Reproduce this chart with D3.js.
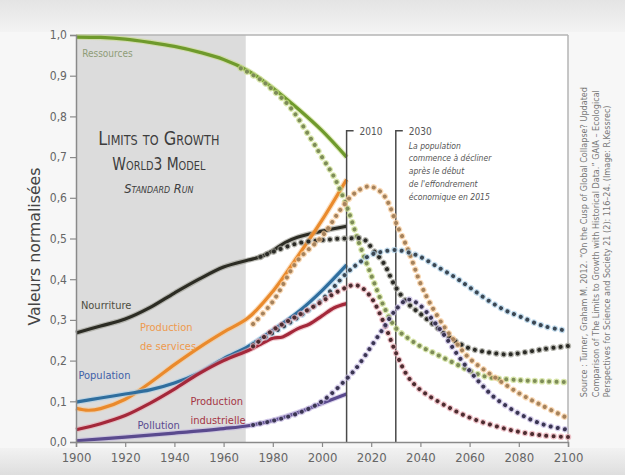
<!DOCTYPE html>
<html>
<head>
<meta charset="utf-8">
<script src="https://cdn.jsdelivr.net/npm/d3@7"></script>
<style>
  html, body { margin: 0; padding: 0; background: #f6f6f6; }
  svg { display: block; }
  .cond { font-family: "Liberation Sans Narrow", "DejaVu Sans Condensed", "Roboto", sans-serif; }
</style>
</head>
<body>
<svg id="chart" width="625" height="475"></svg>
<script>
// ---- data: observed values (solid) 1900–2010 ----
const resourcesObs = [[1900,.995],[1910,.994],[1920,.99],[1930,.982],[1940,.972],[1950,.958],[1960,.94],[1970,.912],[1980,.87],[1990,.82],[2000,.765],[2010,.70]];
const servicesObs = [[1900,.083],[1905,.078],[1910,.082],[1920,.105],[1930,.145],[1940,.19],[1950,.232],[1960,.27],[1970,.305],[1980,.37],[1990,.455],[2000,.545],[2010,.645]];
const foodObs = [[1900,.268],[1910,.285],[1920,.302],[1930,.33],[1940,.366],[1950,.40],[1960,.43],[1970,.447],[1975,.455],[1980,.47],[1985,.49],[1990,.503],[2000,.518],[2010,.53]];
const populationObs = [[1900,.098],[1910,.108],[1920,.118],[1930,.128],[1940,.145],[1950,.17],[1960,.205],[1970,.235],[1980,.275],[1990,.318],[2000,.372],[2010,.435]];
const industryObs = [[1900,.03],[1910,.045],[1920,.065],[1930,.095],[1940,.13],[1950,.168],[1960,.20],[1970,.225],[1975,.24],[1980,.255],[1984,.258],[1990,.278],[1995,.29],[2000,.31],[2005,.33],[2010,.34]];
const pollutionObs = [[1900,.003],[1920,.012],[1940,.022],[1960,.033],[1970,.04],[1980,.053],[1990,.072],[2000,.095],[2010,.118]];

// ---- data: World3 standard run (dotted) ----
const resourcesRun = [[1967,.918],[1975,.89],[1980,.865],[1987,.823],[1995,.75],[2000,.70],[2005,.65],[2010,.58],[2015,.49],[2020,.41],[2025,.335],[2030,.28],[2035,.255],[2040,.235],[2045,.22],[2050,.205],[2055,.19],[2060,.175],[2067,.16],[2080,.152],[2090,.149],[2100,.147]];
const servicesRun = [[1972,.29],[1980,.345],[1990,.445],[2000,.505],[2008,.575],[2013,.61],[2019,.628],[2024,.614],[2027,.587],[2030,.54],[2035,.472],[2040,.39],[2044,.34],[2050,.28],[2055,.24],[2060,.205],[2070,.16],[2080,.12],[2090,.088],[2100,.058]];
const foodRun = [[1975,.455],[1980,.467],[1990,.488],[2000,.496],[2010,.50],[2017,.498],[2021,.47],[2025,.44],[2030,.38],[2035,.34],[2040,.315],[2045,.29],[2050,.265],[2055,.245],[2060,.23],[2067,.221],[2075,.215],[2080,.218],[2090,.228],[2100,.236]];
const populationRun = [[1972,.24],[1980,.268],[1990,.305],[2000,.35],[2010,.415],[2015,.44],[2020,.46],[2025,.468],[2030,.472],[2035,.466],[2040,.455],[2047,.43],[2054,.405],[2060,.38],[2067,.35],[2074,.325],[2081,.307],[2090,.285],[2100,.273]];
const industryRun = [[1972,.235],[1980,.275],[1990,.31],[2000,.345],[2005,.365],[2010,.38],[2013,.386],[2016,.38],[2020,.355],[2025,.295],[2030,.22],[2035,.16],[2040,.128],[2050,.09],[2060,.06],[2070,.04],[2080,.025],[2090,.016],[2100,.012]];
const pollutionRun = [[1972,.042],[1980,.052],[1990,.07],[2000,.10],[2010,.155],[2015,.19],[2020,.235],[2025,.28],[2030,.325],[2035,.35],[2040,.335],[2045,.30],[2050,.26],[2055,.215],[2060,.175],[2065,.14],[2070,.11],[2080,.07],[2090,.043],[2100,.03]];

// ---- ticks, markers and labels ----
const xTicks = [1900,1920,1940,1960,1980,2000,2020,2040,2060,2080,2100];
const yTicks = [0,0.1,0.2,0.3,0.4,0.5,0.6,0.7,0.8,0.9,1.0];
const historyEnd = 1969;          // end of shaded historical period
const markerYears = [2010, 2030]; // vertical marker lines
const markerNote = ["La population", "commence à décliner", "après le début", "de l'effondrement", "économique en 2015"];
const sourceLines = [
  "Source : Turner, Graham M. 2012. \u201cOn the Cusp of Global Collapse? Updated",
  "Comparison of The Limits to Growth with Historical Data.\u201d GAIA \u2013 Ecological",
  "Perspectives for Science and Society 21 (2): 116\u201324. (Image: R.Kessrec)"
];

// ---- chart ----
const svg = d3.select("#chart");
const x = d3.scaleLinear().domain([1900, 2100]).range([76, 568]);
const y = d3.scaleLinear().domain([0, 1]).range([442, 35]);

// page bands
const defs = svg.append("defs");
const gTop = defs.append("linearGradient").attr("id", "topband").attr("x1", 0).attr("x2", 0).attr("y1", 0).attr("y2", 1);
gTop.append("stop").attr("offset", "0%").attr("stop-color", "#e4e4e4");
gTop.append("stop").attr("offset", "100%").attr("stop-color", "#f3f3f3");
const gBot = defs.append("linearGradient").attr("id", "botband").attr("x1", 0).attr("x2", 0).attr("y1", 0).attr("y2", 1);
gBot.append("stop").attr("offset", "0%").attr("stop-color", "#f2f2f2");
gBot.append("stop").attr("offset", "100%").attr("stop-color", "#dedede");

svg.append("rect").attr("x", 0).attr("y", 0).attr("width", 625).attr("height", 475).attr("fill", "#f7f7f7");
svg.append("rect").attr("x", 0).attr("y", 0).attr("width", 625).attr("height", 32).attr("fill", "url(#topband)");
svg.append("rect").attr("x", 0).attr("y", 448).attr("width", 625).attr("height", 27).attr("fill", "url(#botband)");

// plot area
svg.append("rect")
  .attr("x", x(1900)).attr("y", y(1))
  .attr("width", x(2100) - x(1900)).attr("height", y(0) - y(1))
  .attr("fill", "#ffffff");
svg.append("rect")
  .attr("x", x(1900)).attr("y", y(1))
  .attr("width", x(historyEnd) - x(1900)).attr("height", y(0) - y(1))
  .attr("fill", "#dcdcdc");

// frame (top and right)
svg.append("line").attr("x1", x(1900)).attr("x2", x(2100)).attr("y1", y(1)).attr("y2", y(1))
  .attr("stroke", "#b5b5b5").attr("stroke-width", 1.5);
svg.append("line").attr("x1", x(2100)).attr("x2", x(2100)).attr("y1", y(1)).attr("y2", y(0))
  .attr("stroke", "#b5b5b5").attr("stroke-width", 1.5);

// title block
const titleX = (x(1900) + x(historyEnd)) / 2 - 2;
const title = svg.append("g").attr("class", "cond").attr("fill", "#3d3d3d").attr("text-anchor", "middle");
title.append("text").attr("x", titleX).attr("y", 145)
  .attr("font-size", 20).style("font-variant", "small-caps")
  .attr("textLength", 121).attr("lengthAdjust", "spacingAndGlyphs").text("Limits to Growth");
title.append("text").attr("x", titleX).attr("y", 170)
  .attr("font-size", 17).style("font-variant", "small-caps")
  .attr("textLength", 93).attr("lengthAdjust", "spacingAndGlyphs").text("World3 Model");
title.append("text").attr("x", titleX).attr("y", 193)
  .attr("font-size", 13).attr("font-style", "italic").style("font-variant", "small-caps")
  .attr("textLength", 69).attr("lengthAdjust", "spacingAndGlyphs").text("Standard Run");

// line generators
const line = d3.line().x(d => x(d[0])).y(d => y(d[1])).curve(d3.curveCatmullRom.alpha(0.5));

const series = [
  { obs: resourcesObs,  run: resourcesRun,  color: "#6f9a2c", halo: "#c9dc8a", dot: "#7d8c58" },
  { obs: foodObs,       run: foodRun,       color: "#2c2c24", halo: "#9a9a90", dot: "#2a2a26" },
  { obs: servicesObs,   run: servicesRun,   color: "#ea8a2c", halo: "#f6c894", dot: "#a5825c" },
  { obs: populationObs, run: populationRun, color: "#2f6e9e", halo: "#a9cde6", dot: "#3b4753" },
  { obs: industryObs,   run: industryRun,   color: "#a4283a", halo: "#e7aab2", dot: "#4c2c30" },
  { obs: pollutionObs,  run: pollutionRun,  color: "#5a4a8e", halo: "#c3b8e0", dot: "#3a3552" }
];

// observed history: solid lines
const solid = svg.append("g");
series.forEach(s => {
  solid.append("path").datum(s.obs).attr("d", line)
    .attr("fill", "none").attr("stroke", s.halo).attr("stroke-width", 5.5).attr("stroke-opacity", 0.6);
  solid.append("path").datum(s.obs).attr("d", line)
    .attr("fill", "none").attr("stroke", s.color).attr("stroke-width", 3.2);
});

// marker lines
const markers = svg.append("g").attr("class", "cond");
markerYears.forEach(yr => {
  markers.append("path")
    .attr("d", `M${x(yr) + 7},${y(0.765)}H${x(yr)}V${y(0)}`)
    .attr("fill", "none").attr("stroke", "#4a4a4a").attr("stroke-width", 1.5);
  markers.append("text").attr("x", x(yr) + 13).attr("y", y(0.765) + 4)
    .attr("font-size", 10).attr("fill", "#555").text(yr);
});
markers.append("g").selectAll("text").data(markerNote).join("text")
  .attr("x", x(markerYears[1]) + 13)
  .attr("y", (d, i) => y(0.765) + 18 + i * 12.8)
  .attr("font-size", 8.5).attr("font-style", "italic").attr("fill", "#555").text(d => d);

// model run: dotted lines
const dotted = svg.append("g");
series.forEach(s => {
  dotted.append("path").datum(s.run).attr("d", line)
    .attr("fill", "none").attr("stroke", s.halo).attr("stroke-width", 6.5)
    .attr("stroke-linecap", "round").attr("stroke-dasharray", "0.01 7.2").attr("stroke-opacity", 0.7);
  dotted.append("path").datum(s.run).attr("d", line)
    .attr("fill", "none").attr("stroke", s.dot).attr("stroke-width", 4)
    .attr("stroke-linecap", "round").attr("stroke-dasharray", "0.01 7.2");
});

// axes
const fmt = d => d3.format(".1f")(d).replace(".", ",");
const yAxis = svg.append("g").attr("class", "cond").attr("transform", `translate(${x(1900)},0)`)
  .call(d3.axisLeft(y).tickValues(yTicks).tickFormat(fmt).tickSize(6).tickPadding(3));
const xAxis = svg.append("g").attr("class", "cond").attr("transform", `translate(0,${y(0)})`)
  .call(d3.axisBottom(x).tickValues(xTicks).tickFormat(d3.format("d")).tickSize(5).tickPadding(6));
[yAxis, xAxis].forEach(a => {
  a.select(".domain").attr("stroke", "#8a8a8a").attr("stroke-width", 1.5);
  a.selectAll(".tick line").attr("stroke", "#8a8a8a").attr("stroke-width", 1.2);
  a.selectAll(".tick text").attr("fill", "#666").attr("font-size", 13)
    .attr("font-family", "Liberation Sans Narrow, DejaVu Sans Condensed, sans-serif");
});
yAxis.selectAll(".tick text").attr("font-size", 12);

// axis title
svg.append("text").attr("transform", `translate(40,${(y(0) + y(1)) / 2 + 8}) rotate(-90)`)
  .attr("text-anchor", "middle").attr("font-size", 15.5).attr("fill", "#444")
  .attr("font-family", "Liberation Sans Narrow, DejaVu Sans Condensed, sans-serif")
  .attr("textLength", 158).attr("lengthAdjust", "spacingAndGlyphs")
  .text("Valeurs normalisées");

// series labels
const labels = [
  { lines: ["Ressources"], year: 1902.5, v: 0.947, color: "#8f9c78", size: 10 },
  { lines: ["Nourriture"], year: 1902, v: 0.328, color: "#4d4d40", size: 11 },
  { lines: ["Production", "de services"], year: 1926, v: 0.272, color: "#ee9a4e", size: 11 },
  { lines: ["Population"], year: 1901, v: 0.155, color: "#4060a8", size: 11 },
  { lines: ["Production", "industrielle"], year: 1946.5, v: 0.09, color: "#a53545", size: 11 },
  { lines: ["Pollution"], year: 1925, v: 0.031, color: "#5a4a90", size: 11 }
];
const lg = svg.append("g").attr("class", "cond");
labels.forEach(l => {
  l.lines.forEach((t, i) => {
    lg.append("text").attr("x", x(l.year)).attr("y", y(l.v) + i * 19)
      .attr("font-size", l.size).attr("fill", l.color).text(t);
  });
});

// source note, set vertically
svg.append("g").attr("class", "cond").selectAll("text").data(sourceLines).join("text")
  .attr("transform", (d, i) => `translate(${587 + i * 11.5},${y(0.11)}) rotate(-90)`)
  .attr("font-size", 9).attr("fill", "#777").text(d => d);
</script>
</body>
</html>
